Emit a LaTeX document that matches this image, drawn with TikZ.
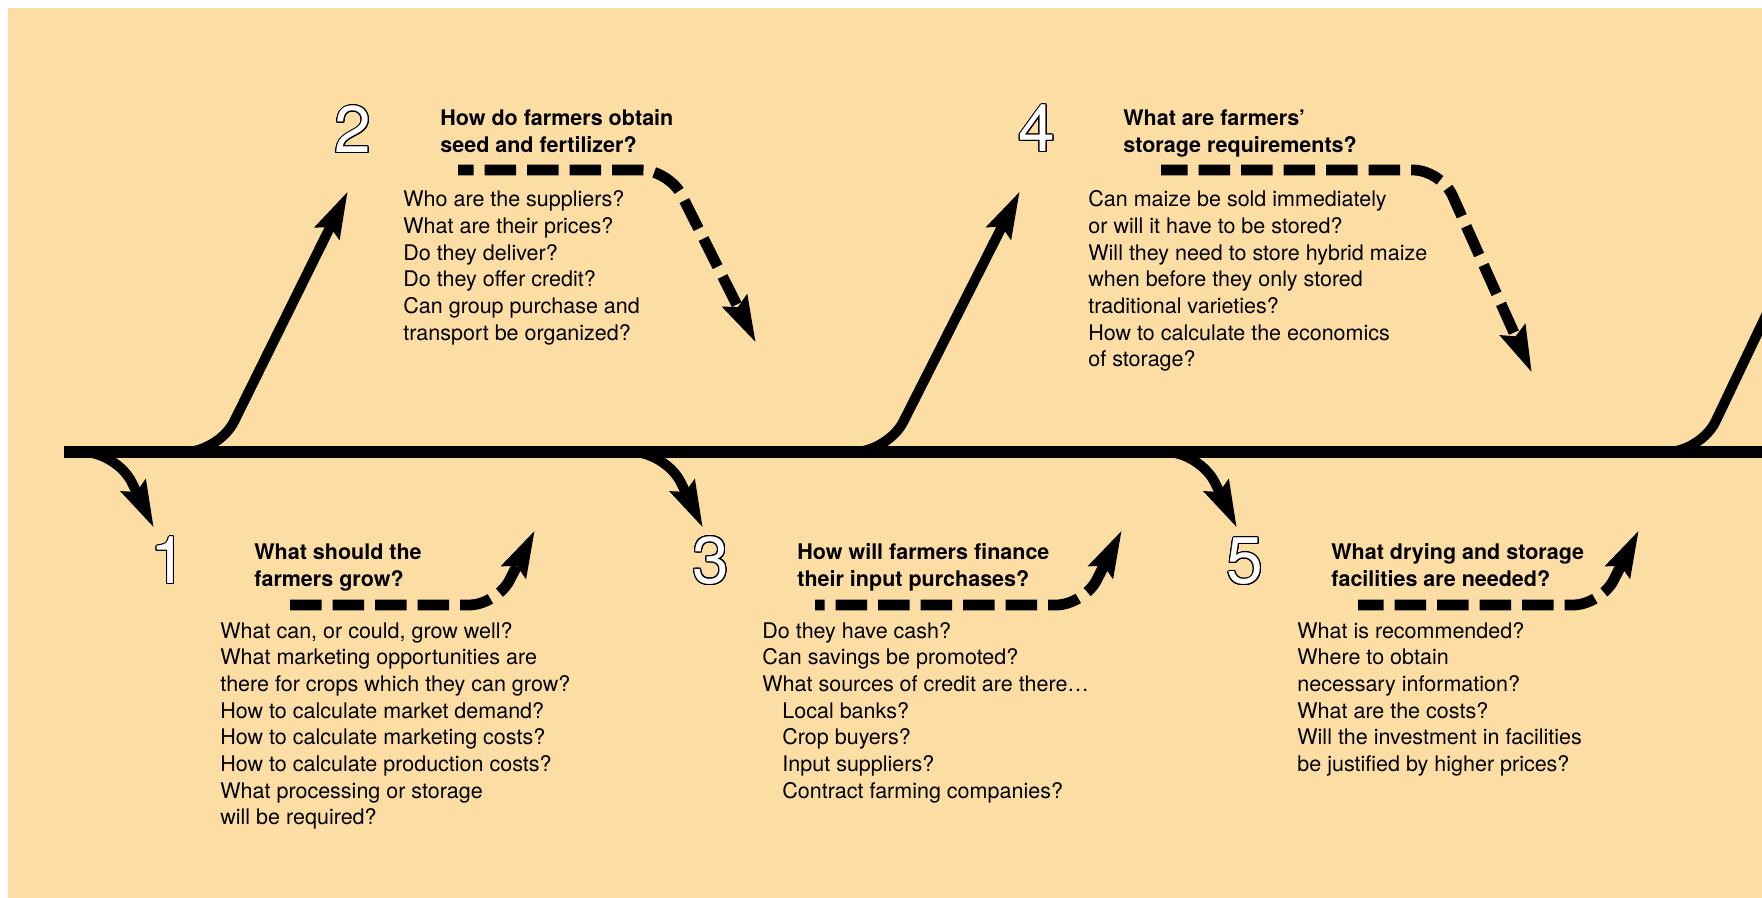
\documentclass[tikz,border=0pt]{standalone}
\usepackage{fontspec}
\setmainfont{TeX Gyre Heros}
\usepackage{contour}
\usepackage{tikz}
\usetikzlibrary{arrows.meta}
\definecolor{FarmTan}{HTML}{FCDEA4}
\definecolor{FarmInk}{HTML}{000000}
\contourlength{0.55pt}
\newcommand{\qnumber}[1]{\contour{FarmInk}{\textcolor{white}{#1}}}
\tikzset{
  qhead/.style={font=\fontsize{10.75}{13.5}\selectfont\bfseries, text=FarmInk, align=left, anchor=north west, inner sep=0pt},
  qtext/.style={font=\fontsize{10.75}{13.33}\selectfont, text=FarmInk, align=left, anchor=north west, inner sep=0pt},
  qnum/.style={font=\fontsize{33}{33}\selectfont, inner sep=0pt},
  spine/.style={line width=5.6pt, draw=FarmInk},
  branch/.style={-{Stealth[length=23pt,width=13pt,inset=3pt]}, line width=5pt, draw=FarmInk, rounded corners=17pt},
  flow/.style={-{Stealth[length=23pt,width=13pt,inset=3pt]}, line width=5.4pt, draw=FarmInk, dash pattern=on 15.75pt off 5.5pt, rounded corners=14pt}
}

\begin{document}
\begin{tikzpicture}[x=0.5pt,y=-0.5pt]
\useasboundingbox (0,0) rectangle (1762,898);
\fill[FarmTan] (8,8) rectangle (1762,898);
\clip (0,0) rectangle (1762,898);

\coordinate (spineL) at (64,452);
\coordinate (spineR) at (1762,452);
\coordinate (s1) at (64,452);   \coordinate (c1) at (117,452);  \coordinate (t1) at (154,528);
\coordinate (s2) at (160,452);  \coordinate (c2) at (219,452);  \coordinate (t2) at (348,191);
\coordinate (s3) at (590,452);  \coordinate (c3) at (666,452);  \coordinate (t3) at (703,528);
\coordinate (s4) at (830,452);  \coordinate (c4) at (888,452);  \coordinate (t4) at (1020,191);
\coordinate (s5) at (1120,452); \coordinate (c5) at (1200,452); \coordinate (t5) at (1237,528);
\coordinate (s6) at (1640,452); \coordinate (c6) at (1701,452); \coordinate (t6) at (1790,265);

\draw[spine] (spineL) -- (spineR);
\draw[branch] (s1) -- (c1) -- (t1);
\draw[branch] (s2) -- (c2) -- (t2);
\draw[branch] (s3) -- (c3) -- (t3);
\draw[branch] (s4) -- (c4) -- (t4);
\draw[branch] (s5) -- (c5) -- (t5);
\draw[branch, -] (s6) -- (c6) -- (t6);

\node[qnum] (num1) at (169,561) {\qnumber{1}};
\node[qnum] (num2) at (353,130) {\qnumber{2}};
\node[qnum] (num3) at (711,561) {\qnumber{3}};
\node[qnum] (num4) at (1037,129) {\qnumber{4}};
\node[qnum] (num5) at (1245,562) {\qnumber{5}};

\node[qhead] (head1) at (254,543.5) {What should the\\farmers grow?};
\node[qhead] (head2) at (440,109.5) {How do farmers obtain\\seed and fertilizer?};
\node[qhead] (head3) at (797,543.5) {How will farmers finance\\their input purchases?};
\node[qhead] (head4) at (1123,109.5) {What are farmers’\\storage requirements?};
\node[qhead] (head5) at (1331,543.5) {What drying and storage\\facilities are needed?};

\node[qtext] (body1) at (220,622) {What can, or could, grow well?\\What marketing opportunities are\\there for crops which they can grow?\\How to calculate market demand?\\How to calculate marketing costs?\\How to calculate production costs?\\What processing or storage\\will be required?};
\node[qtext] (body2) at (403,190.5) {Who are the suppliers?\\What are their prices?\\Do they deliver?\\Do they offer credit?\\Can group purchase and\\transport be organized?};
\node[qtext] (body3) at (762,622) {Do they have cash?\\Can savings be promoted?\\What sources of credit are there…\\\hspace{10pt}Local banks?\\\hspace{10pt}Crop buyers?\\\hspace{10pt}Input suppliers?\\\hspace{10pt}Contract farming companies?};
\node[qtext] (body4) at (1088,190.5) {Can maize be sold immediately\\or will it have to be stored?\\Will they need to store hybrid maize\\when before they only stored\\traditional varieties?\\How to calculate the economics\\of storage?};
\node[qtext] (body5) at (1297,622) {What is recommended?\\Where to obtain\\necessary information?\\What are the costs?\\Will the investment in facilities\\be justified by higher prices?};

\coordinate (f1s) at (290,605);  \coordinate (f1c) at (497,605);  \coordinate (f1t) at (535,530);
\coordinate (f2s) at (458,170);  \coordinate (f2c) at (669,170);  \coordinate (f2t) at (756,343);
\coordinate (f3s) at (815,605);  \coordinate (f3c) at (1084,605); \coordinate (f3t) at (1122,530);
\coordinate (f4s) at (1161,170); \coordinate (f4c) at (1441,170); \coordinate (f4t) at (1532,373);
\coordinate (f5s) at (1358,605); \coordinate (f5c) at (1601,605); \coordinate (f5t) at (1639,530);

\draw[flow] (f1s) -- (f1c) -- (f1t);
\draw[flow, dash phase=8pt] (f2s) -- (f2c) -- (f2t);
\draw[flow, dash phase=11pt] (f3s) -- (f3c) -- (f3t);
\draw[flow, dash phase=2.5pt] (f4s) -- (f4c) -- (f4t);
\draw[flow, dash phase=3pt] (f5s) -- (f5c) -- (f5t);
\end{tikzpicture}
\end{document}
